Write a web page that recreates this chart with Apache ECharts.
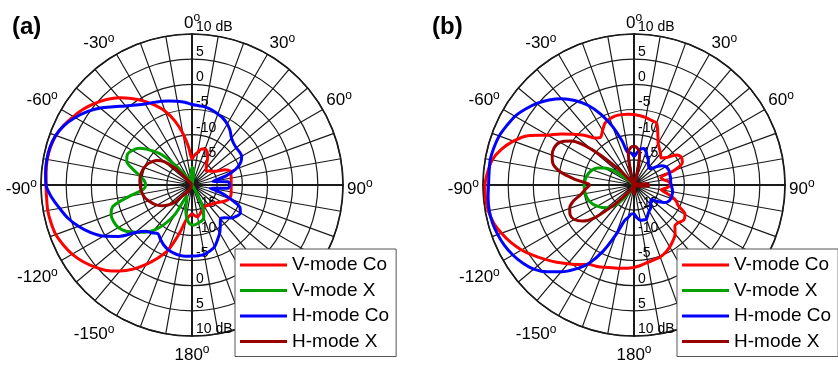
<!DOCTYPE html>
<html>
<head>
<meta charset="utf-8">
<script src="https://cdn.jsdelivr.net/npm/echarts@6/dist/echarts.min.js"></script>
<style>
  html, body { margin: 0; padding: 0; background: #fff; }
  #chart { width: 838px; height: 366px; }
</style>
</head>
<body>
<div id="chart"></div>
<script>
// angles in degrees (0 = top, clockwise)
var ANGLES = [-180, -175, -170, -165, -160, -155, -150, -145, -140, -135, -130, -125, -120, -115, -110, -105,
  -100, -95, -90, -85, -80, -75, -70, -65, -60, -55, -50, -45, -40, -35, -30, -25, -20, -15, -10, -5,
  0, 5, 10, 15, 20, 25, 30, 35, 40, 45, 50, 55, 60, 65, 70, 75, 80, 85, 90, 95, 100,
  105, 110, 115, 120, 125, 130, 135, 140, 145, 150, 155, 160, 165, 170, 175, 180];

var SERIES_NAMES = ['V-mode Co', 'V-mode X', 'H-mode Co', 'H-mode X'];
var SERIES_COLORS = ['#ff0000', '#00a000', '#0000ff', '#990000'];

// (a) values in dB
var aVCo = [-14.3, -13.8, -12.8, -9.8, -6.3, -4.0, -1.8, 0.4, 2.3, 4.0, 5.3, 6.5, 7.5, 8.2, 8.8, 9.0,
  9.1, 9.0, 9.0, 9.1, 9.2, 9.1, 8.8, 8.1, 7.2, 6.3, 5.2, 4.0, 2.6, 1.0, -0.7, -2.5, -4.4, -6.8, -9.6, -12.5,
  -14.8, -14.0, -13.4, -12.6, -12.4, -12.8, -13.8, -15.0, -15.6, -16.0, -15.7, -15.2, -14.5, -12.8, -11.9, -12.0, -12.1, -12.2, -12.2, -12.2, -12.1,
  -12.0, -12.1, -12.6, -13.3, -13.9, -14.3, -14.6, -14.8, -15.0, -15.0, -14.8, -14.5, -14.0, -13.6, -13.9, -14.3];
var aVX = [-12.0, -12.5, -13.6, -15.2, -17.0, -17.5, -13.3, -10.5, -8.3, -6.7, -5.4, -4.0, -3.1, -2.8, -2.9, -3.8,
  -7.5, -10.3, -10.8, -10.5, -9.5, -7.8, -6.2, -5.8, -6.3, -7.3, -9.3, -11.5, -15.0, -17.5, -19.0, -20, -20, -20, -19.5, -18.0,
  -16.5, -16.8, -18.5, -20, -20, -20, -20, -20, -20, -20, -20, -20, -20, -20, -20, -20, -20, -20, -20, -20, -20,
  -20, -20, -20, -20, -20, -20, -20, -20, -19.5, -17.8, -14.8, -13.2, -12.6, -12.4, -12.1, -12.0];
var aHCo = [-5.9, -5.8, -5.8, -6.0, -6.3, -6.8, -7.5, -8.2, -7.6, -7.0, -5.3, -2.2, 0.3, 2.3, 4.0, 5.5,
  6.7, 8.0, 9.0, 9.2, 9.3, 9.2, 8.8, 8.0, 6.8, 5.4, 3.8, 2.0, 0.5, -0.6, -1.4, -1.9, -2.3, -2.7, -3.1, -3.5,
  -4.0, -4.2, -4.3, -4.6, -5.0, -5.4, -6.0, -6.8, -7.8, -8.3, -8.5, -8.5, -8.6, -9.3, -10.7, -13.0, -15.8, -12.8, -12.5, -12.8, -16.3,
  -14.0, -11.8, -9.5, -8.9, -9.2, -9.8, -10.8, -11.2, -10.2, -9.0, -8.0, -6.9, -6.4, -6.0, -5.9, -5.9];
var aHX = [-20, -20, -20, -20, -20, -20, -19.0, -18.3, -17.6, -15.0, -13.8, -12.8, -12.0, -11.4, -10.8, -10.3,
  -10.0, -9.8, -9.7, -9.6, -9.6, -9.7, -9.9, -10.2, -10.8, -11.5, -12.8, -15.5, -19.0, -20, -20, -20, -20, -20, -20, -20,
  -20, -20, -20, -20, -20, -20, -20, -20, -20, -20, -20, -20, -20, -20, -20, -20, -20, -20, -20, -20, -20,
  -20, -20, -20, -20, -20, -20, -20, -20, -20, -20, -20, -20, -20, -20, -20, -20];

// (b) values in dB
var bVCo = [-3.6, -3.4, -3.2, -3.0, -2.6, -2.2, -1.8, -0.7, 0.4, 1.7, 3.0, 4.4, 5.8, 7.0, 8.0, 8.9,
  9.4, 9.6, 9.6, 9.2, 8.6, 7.3, 5.5, 3.2, -0.2, -2.3, -4.3, -6.0, -7.8, -8.4, -7.5, -6.4, -6.0, -5.8, -5.8, -5.9,
  -6.0, -6.2, -6.4, -6.7, -6.9, -8.8, -10.4, -11.2, -11.8, -12.4, -11.5, -9.6, -9.1, -9.4, -11.5, -14.5, -14.0, -13.0, -12.8, -13.5, -14.5,
  -13.0, -11.2, -10.3, -8.3, -7.9, -8.4, -8.5, -7.3, -6.5, -5.8, -5.2, -4.8, -4.6, -4.4, -4.0, -3.6];
var bVX = [-20, -20, -20, -20, -20, -20, -19.5, -17.5, -15.5, -14.0, -13.0, -12.2, -11.6, -11.0, -10.6, -10.3,
  -10.2, -10.1, -10.1, -10.2, -10.4, -10.7, -11.2, -12.0, -13.2, -15.0, -18.0, -20, -20, -20, -20, -20, -20, -20, -20, -20,
  -20, -20, -20, -20, -20, -20, -20, -20, -20, -20, -20, -20, -20, -20, -20, -20, -20, -20, -20, -20, -20,
  -20, -20, -20, -20, -20, -20, -20, -20, -20, -20, -20, -20, -20, -20, -20, -20];
var bHCo = [-14.3, -14.2, -13.5, -12.6, -9.5, -5.5, -2.0, 0.4, 2.5, 4.4, 6.0, 7.0, 7.8, 8.4, 8.8, 9.1,
  9.2, 9.1, 8.9, 8.9, 9.0, 8.8, 8.5, 7.9, 7.3, 6.3, 5.2, 3.9, 2.4, 0.5, -1.7, -4.5, -7.7, -11.0, -13.5, -13.6,
  -14.3, -13.6, -12.8, -12.5, -13.0, -13.8, -14.3, -15.0, -15.4, -15.4, -14.5, -13.3, -12.7, -12.5, -12.5, -12.6, -12.6, -12.7, -12.6, -12.4, -12.2,
  -12.2, -12.2, -12.4, -13.0, -14.3, -15.5, -15.3, -14.8, -14.3, -14.0, -13.5, -12.8, -12.8, -12.9, -13.5, -14.3];
var bHX = [-18.0, -19.0, -20, -20, -20, -20, -20, -19.0, -17.5, -14.5, -10.0, -7.5, -6.3, -6.0, -6.4, -7.5,
  -9.3, -10.3, -11.2, -8.5, -5.2, -3.3, -2.7, -2.5, -3.0, -4.8, -9.0, -15.0, -19.0, -20, -20, -20, -20, -17.0, -13.5, -12.5,
  -12.3, -12.6, -13.5, -17.0, -20, -20, -20, -20, -20, -20, -20, -20, -20, -20, -20, -20, -18.5, -17.5, -17.0, -17.5, -18.5,
  -20, -20, -20, -20, -20, -20, -20, -20, -20, -20, -20, -20, -20, -20, -19.0, -18.0];

var FONT = 'Liberation Sans, Arial, sans-serif';
var R_MIN = -20, R_MAX = 10;
var plots = [
  { cx: 192, cy: 185, title: '(a)', titleX: 7, legendX: 235, data: [aVCo, aVX, aHCo, aHX] },
  { cx: 634, cy: 185, title: '(b)', titleX: 427, legendX: 677, data: [bVCo, bVX, bHCo, bHX] }
];
var RADIUS = 151;

function toPairs(vals) {
  return ANGLES.map(function (a, i) {
    return [vals[i], a < 0 ? a + 360 : a];
  });
}

function angleLabel(v) {
  if (v % 30 !== 0 || v === 360) return '';
  var d = v > 180 ? v - 360 : v;
  return '{n|' + d + '}{s|o}';
}

function radiusLabel(v) {
  if (v === R_MIN) return '';
  if (v === R_MAX) return '10 dB';
  return String(v);
}

var option = {
  animation: false,
  backgroundColor: '#fff',
  title: [],
  legend: [],
  polar: [],
  angleAxis: [],
  radiusAxis: [],
  series: []
};

plots.forEach(function (p, k) {
  option.title.push({
    text: p.title, left: p.titleX, top: 10,
    textStyle: { fontSize: 24, fontWeight: 'bold', color: '#000', fontFamily: FONT }
  });
  option.legend.push({
    orient: 'vertical', left: p.legendX, top: 249,
    data: SERIES_NAMES, icon: 'rect', itemWidth: 47, itemHeight: 3, itemGap: 5.5,
    selectedMode: false,
    textStyle: { fontSize: 19, lineHeight: 20, color: '#000', fontFamily: FONT },
    backgroundColor: '#fff', borderColor: '#555', borderWidth: 1, borderRadius: 0,
    padding: [6, 7, 5, 5]
  });
  // 4 polars per plot: main (up), down labels, right line, left line
  var starts = [90, 270, 0, 180];
  starts.forEach(function (sa, j) {
    var pi = k * 4 + j;
    option.polar.push({ center: [p.cx, p.cy], radius: RADIUS });
    var main = j === 0;
    option.angleAxis.push({
      polarIndex: pi, type: 'value', min: 0, max: 360, interval: 10,
      startAngle: sa, clockwise: true, show: main,
      axisLine: { lineStyle: { color: '#1a1a1a', width: 1.6 } },
      axisTick: { show: false },
      splitLine: { show: main, lineStyle: { color: '#1a1a1a', width: 1.2 } },
      axisLabel: {
        formatter: angleLabel, margin: 4, color: '#000',
        align: 'center', verticalAlign: 'middle',
        rich: {
          n: { fontSize: 17, lineHeight: 22, padding: [8, 0, 0, 0], fontFamily: FONT, color: '#000' },
          s: { fontSize: 12, lineHeight: 12, padding: [4, 0, 0, 0], verticalAlign: 'top', fontFamily: FONT, color: '#000' }
        }
      }
    });
    option.radiusAxis.push({
      polarIndex: pi, type: 'value', min: R_MIN, max: R_MAX, interval: 5,
      axisLine: { show: true, lineStyle: { color: '#1a1a1a', width: 2 } },
      axisTick: { show: false },
      splitLine: { show: main, lineStyle: { color: '#1a1a1a', width: 1.2 } },
      axisLabel: {
        show: j < 2, formatter: radiusLabel, color: '#000', fontSize: 14, fontFamily: FONT,
        align: 'left', verticalAlign: 'bottom', margin: j === 0 ? -4 : 4
      }
    });
  });
  p.data.forEach(function (vals, s) {
    option.series.push({
      type: 'line', name: SERIES_NAMES[s], coordinateSystem: 'polar', polarIndex: k * 4,
      data: toPairs(vals), showSymbol: false, smooth: 0.3,
      color: SERIES_COLORS[s],
      lineStyle: { color: SERIES_COLORS[s], width: 3 },
      z: 3
    });
  });
});

var myChart = echarts.init(document.getElementById('chart'));
myChart.setOption(option);
</script>
</body>
</html>
